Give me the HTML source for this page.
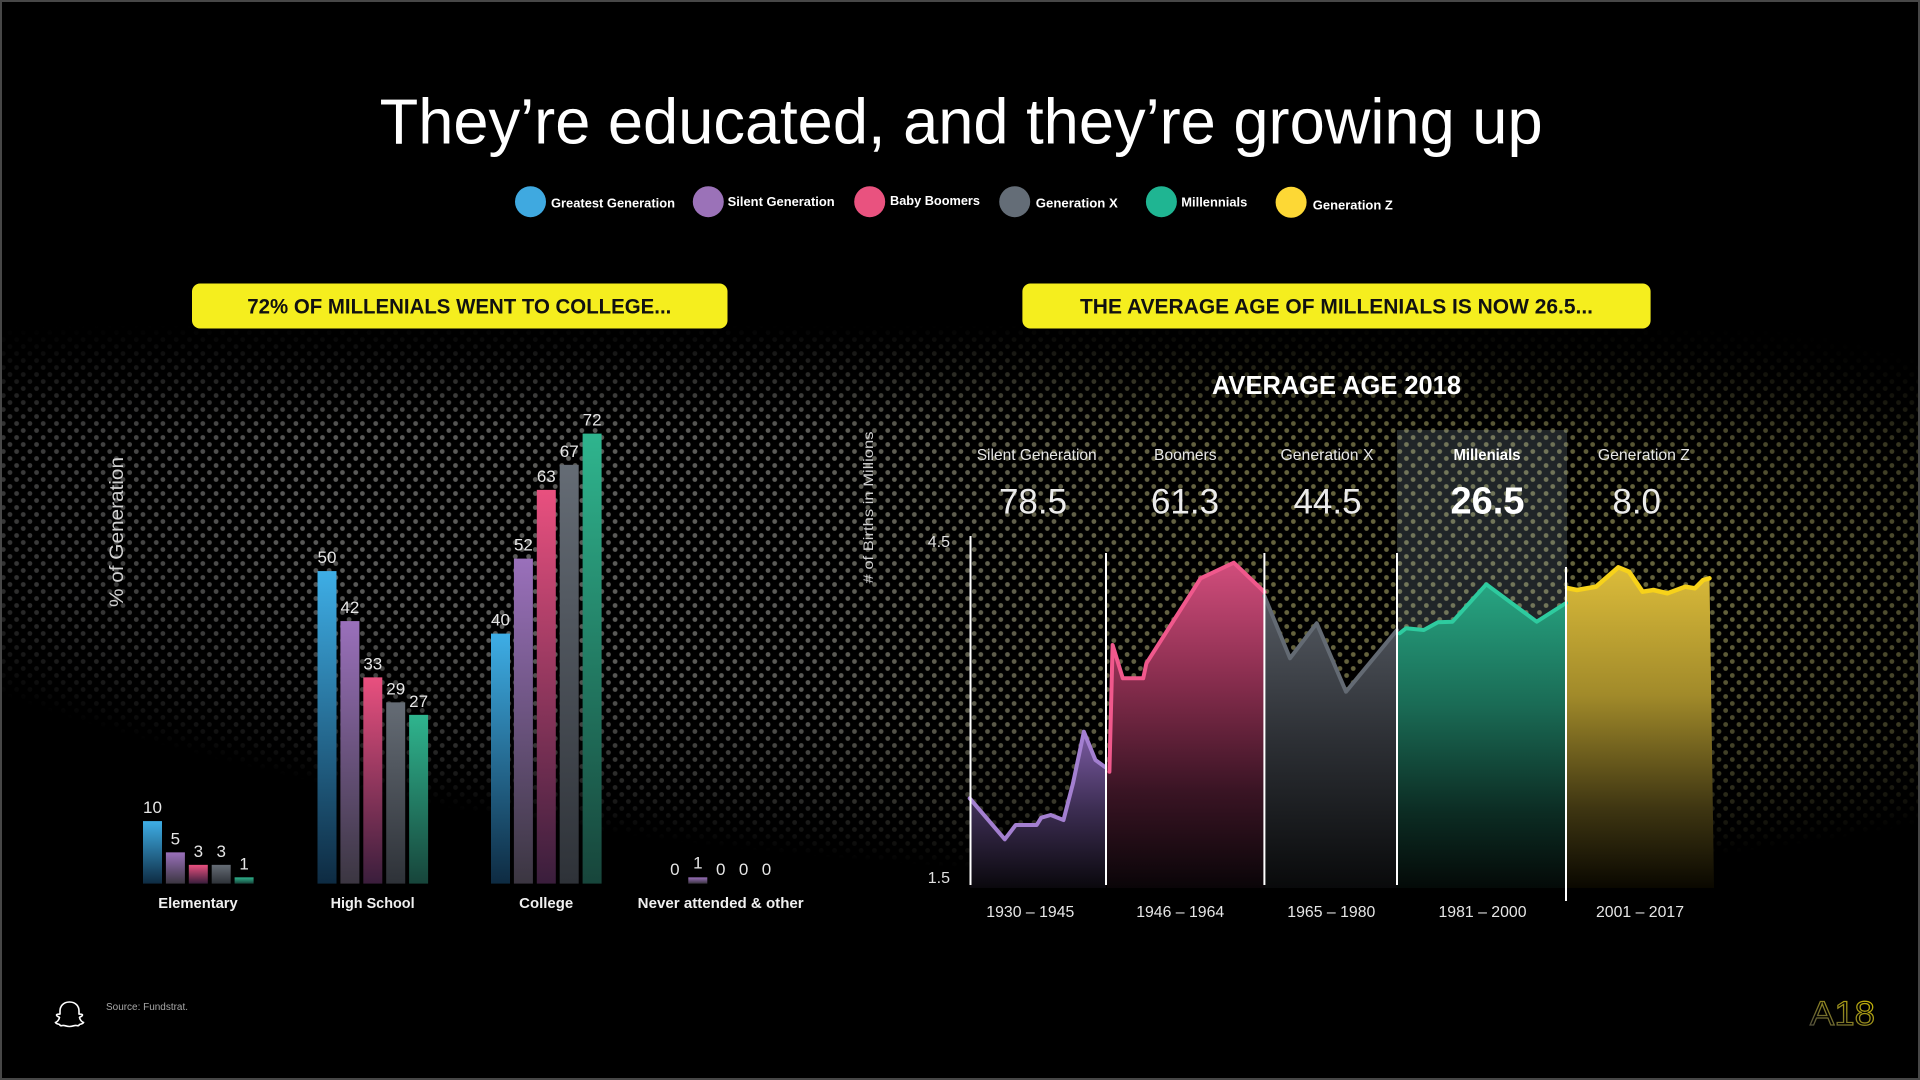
<!DOCTYPE html>
<html>
<head>
<meta charset="utf-8">
<style>
  html,body{margin:0;padding:0;background:#000;}
  svg{display:block;}
  text{font-family:"Liberation Sans", sans-serif;}
</style>
</head>
<body>
<svg width="1920" height="1080" viewBox="0 0 1920 1080" xmlns="http://www.w3.org/2000/svg">
  <defs>
    <pattern id="dotpat" width="13.3" height="14" patternUnits="userSpaceOnUse">
      <circle cx="3.3" cy="3.5" r="2.4" fill="#fff"/>
      <circle cx="9.95" cy="10.5" r="2.4" fill="#fff"/>
    </pattern>
    <mask id="dotmask" maskUnits="userSpaceOnUse" x="0" y="0" width="1920" height="1080">
      <rect width="1920" height="1080" fill="url(#dotpat)"/>
    </mask>
    <radialGradient id="fadeRad" gradientUnits="userSpaceOnUse" cx="0" cy="0" r="1"
      gradientTransform="translate(1000 540) rotate(3.4) scale(1300 330)">
      <stop offset="0" stop-color="#fff"/>
      <stop offset="0.55" stop-color="#fff" stop-opacity="0.95"/>
      <stop offset="0.8" stop-color="#fff" stop-opacity="0.55"/>
      <stop offset="1" stop-color="#fff" stop-opacity="0"/>
    </radialGradient>
    <linearGradient id="fadeTop" gradientUnits="userSpaceOnUse" x1="0" y1="325" x2="0" y2="430">
      <stop offset="0" stop-color="#000" stop-opacity="1"/>
      <stop offset="1" stop-color="#000" stop-opacity="0"/>
    </linearGradient>
    <mask id="fade" maskUnits="userSpaceOnUse" x="0" y="0" width="1920" height="1080">
      <rect width="1920" height="1080" fill="#000"/>
      <rect width="1920" height="1080" fill="url(#fadeRad)"/>
      <rect width="1920" height="1080" fill="url(#fadeTop)"/>
    </mask>
    <linearGradient id="dotColor" gradientUnits="userSpaceOnUse" x1="0" y1="0" x2="1920" y2="0">
      <stop offset="0" stop-color="#5e5e5e"/>
      <stop offset="0.42" stop-color="#5e5e5a"/>
      <stop offset="0.65" stop-color="#67653f"/>
      <stop offset="1" stop-color="#6c6a40"/>
    </linearGradient>

    <linearGradient id="gBlue" x1="0" y1="0" x2="0" y2="1">
      <stop offset="0" stop-color="#3eaee6"/><stop offset="1" stop-color="#0e2b42"/>
    </linearGradient>
    <linearGradient id="gPurple" x1="0" y1="0" x2="0" y2="1">
      <stop offset="0" stop-color="#9a70bb"/><stop offset="1" stop-color="#3b3641"/>
    </linearGradient>
    <linearGradient id="gPink" x1="0" y1="0" x2="0" y2="1">
      <stop offset="0" stop-color="#e9507f"/><stop offset="1" stop-color="#3a1e3c"/>
    </linearGradient>
    <linearGradient id="gGray" x1="0" y1="0" x2="0" y2="1">
      <stop offset="0" stop-color="#656c75"/><stop offset="1" stop-color="#2e3238"/>
    </linearGradient>
    <linearGradient id="gGreen" x1="0" y1="0" x2="0" y2="1">
      <stop offset="0" stop-color="#2fb58e"/><stop offset="1" stop-color="#17453b"/>
    </linearGradient>

    <linearGradient id="aPurple" x1="0" y1="0" x2="0" y2="1">
      <stop offset="0" stop-color="#7b5ba3"/><stop offset="0.5" stop-color="#3c2d52"/><stop offset="1" stop-color="#0a080d"/>
    </linearGradient>
    <linearGradient id="aPink" x1="0" y1="0" x2="0" y2="1">
      <stop offset="0" stop-color="#d14d7c"/><stop offset="0.35" stop-color="#8a2e4f"/><stop offset="0.7" stop-color="#3a1424"/><stop offset="1" stop-color="#0a0508"/>
    </linearGradient>
    <linearGradient id="aGray" x1="0" y1="0" x2="0" y2="1">
      <stop offset="0" stop-color="#555a62"/><stop offset="0.5" stop-color="#2c2f34"/><stop offset="1" stop-color="#090a0b"/>
    </linearGradient>
    <linearGradient id="aGreen" x1="0" y1="0" x2="0" y2="1">
      <stop offset="0" stop-color="#27a582"/><stop offset="0.4" stop-color="#1a6b55"/><stop offset="0.75" stop-color="#0c2c23"/><stop offset="1" stop-color="#040a08"/>
    </linearGradient>
    <linearGradient id="aYellow" x1="0" y1="0" x2="0" y2="1">
      <stop offset="0" stop-color="#dcbc3a"/><stop offset="0.4" stop-color="#a18a2a"/><stop offset="0.75" stop-color="#3f3612"/><stop offset="1" stop-color="#0a0800"/>
    </linearGradient>

    <linearGradient id="logoGrad" x1="0" y1="1" x2="1" y2="0">
      <stop offset="0" stop-color="#444"/><stop offset="1" stop-color="#d8c400"/>
    </linearGradient>
  </defs>

  <rect width="1920" height="1080" fill="#000"/>
  <g mask="url(#fade)">
    <rect width="1920" height="1080" fill="url(#dotColor)" mask="url(#dotmask)"/>
  </g>
  <rect x="1" y="1" width="1918" height="1078" fill="none" stroke="#474747" stroke-width="2"/>

  <text x="379.6" y="143.3" font-size="64" fill="#fff" textLength="1163" lengthAdjust="spacingAndGlyphs">They’re educated, and they’re growing up</text>

  <g font-size="12.5" font-weight="bold" fill="#fff">
    <circle cx="530.5" cy="201.7" r="15.5" fill="#3fa9e0"/>
    <text x="551" y="207.3" textLength="124" lengthAdjust="spacingAndGlyphs">Greatest Generation</text>
    <circle cx="708.3" cy="201.7" r="15.5" fill="#9b72b8"/>
    <text x="727.7" y="206" textLength="107" lengthAdjust="spacingAndGlyphs">Silent Generation</text>
    <circle cx="869.7" cy="201.7" r="15.5" fill="#e9527f"/>
    <text x="890" y="205" textLength="90" lengthAdjust="spacingAndGlyphs">Baby Boomers</text>
    <circle cx="1014.7" cy="201.7" r="15.5" fill="#646d77"/>
    <text x="1035.8" y="207.3" textLength="82" lengthAdjust="spacingAndGlyphs">Generation X</text>
    <circle cx="1161.4" cy="201.7" r="15.5" fill="#1fb592"/>
    <text x="1181.3" y="206.7" textLength="66" lengthAdjust="spacingAndGlyphs">Millennials</text>
    <circle cx="1291.1" cy="202.3" r="15.5" fill="#fdd835"/>
    <text x="1312.8" y="209.3" textLength="80" lengthAdjust="spacingAndGlyphs">Generation Z</text>
  </g>

  <rect x="192" y="283.5" width="535.5" height="45" rx="8" fill="#f5ee1e"/>
  <text x="247.3" y="313.3" font-size="21" font-weight="bold" fill="#111" textLength="424" lengthAdjust="spacingAndGlyphs">72% OF MILLENIALS WENT TO COLLEGE...</text>
  <rect x="1022.4" y="283.5" width="628.2" height="45" rx="8" fill="#f5ee1e"/>
  <text x="1080" y="313.3" font-size="21" font-weight="bold" fill="#111" textLength="513" lengthAdjust="spacingAndGlyphs">THE AVERAGE AGE OF MILLENIALS IS NOW 26.5...</text>

  <text transform="translate(123 532) rotate(-90)" text-anchor="middle" font-size="19" fill="#cfcfcf" textLength="150" lengthAdjust="spacingAndGlyphs">% of Generation</text>

  <g>
    <rect x="143" y="821.1" width="19" height="62.5" fill="url(#gBlue)"/>
    <rect x="165.9" y="852.35" width="19" height="31.25" fill="url(#gPurple)"/>
    <rect x="188.8" y="864.85" width="19" height="18.75" fill="url(#gPink)"/>
    <rect x="211.7" y="864.85" width="19" height="18.75" fill="url(#gGray)"/>
    <rect x="234.6" y="877.35" width="19" height="6.25" fill="url(#gGreen)"/>
    <rect x="317.5" y="571.1" width="19" height="312.5" fill="url(#gBlue)"/>
    <rect x="340.4" y="621.1" width="19" height="262.5" fill="url(#gPurple)"/>
    <rect x="363.3" y="677.35" width="19" height="206.25" fill="url(#gPink)"/>
    <rect x="386.2" y="702.35" width="19" height="181.25" fill="url(#gGray)"/>
    <rect x="409.1" y="714.85" width="19" height="168.75" fill="url(#gGreen)"/>
    <rect x="491" y="633.6" width="19" height="250" fill="url(#gBlue)"/>
    <rect x="513.9" y="558.6" width="19" height="325" fill="url(#gPurple)"/>
    <rect x="536.8" y="489.85" width="19" height="393.75" fill="url(#gPink)"/>
    <rect x="559.7" y="464.85" width="19" height="418.75" fill="url(#gGray)"/>
    <rect x="582.6" y="433.6" width="19" height="450" fill="url(#gGreen)"/>
    <rect x="688.3" y="877.35" width="19" height="6.25" fill="url(#gPurple)"/>
  </g>

  <g font-size="17" fill="#e6e6e6" text-anchor="middle">
    <text x="152.5" y="813.1">10</text>
    <text x="175.4" y="844.3">5</text>
    <text x="198.3" y="856.8">3</text>
    <text x="221.2" y="856.8">3</text>
    <text x="244.1" y="869.3">1</text>
    <text x="327" y="563.1">50</text>
    <text x="349.9" y="613.1">42</text>
    <text x="372.8" y="669.3">33</text>
    <text x="395.7" y="694.3">29</text>
    <text x="418.6" y="706.8">27</text>
    <text x="500.5" y="625.6">40</text>
    <text x="523.4" y="550.6">52</text>
    <text x="546.3" y="481.8">63</text>
    <text x="569.2" y="456.8">67</text>
    <text x="592.1" y="425.6">72</text>
    <text x="674.9" y="875">0</text>
    <text x="697.8" y="868.5">1</text>
    <text x="720.7" y="875">0</text>
    <text x="743.6" y="875">0</text>
    <text x="766.5" y="875">0</text>
  </g>

  <g font-size="14.5" font-weight="bold" fill="#f0f0f0" text-anchor="middle">
    <text x="198" y="908" textLength="79.5" lengthAdjust="spacingAndGlyphs">Elementary</text>
    <text x="372.6" y="908" textLength="84" lengthAdjust="spacingAndGlyphs">High School</text>
    <text x="546.2" y="908" textLength="54" lengthAdjust="spacingAndGlyphs">College</text>
    <text x="720.7" y="908" textLength="166" lengthAdjust="spacingAndGlyphs">Never attended &amp; other</text>
  </g>

  <text x="1336.5" y="394" font-size="26" font-weight="bold" fill="#fff" text-anchor="middle" textLength="249" lengthAdjust="spacingAndGlyphs">AVERAGE AGE 2018</text>

  <rect x="1397" y="430" width="170" height="458" fill="rgb(175,205,220)" fill-opacity="0.18"/>

  <text transform="translate(873 507.5) rotate(-90)" text-anchor="middle" font-size="13.5" fill="#cfcfcf" textLength="152" lengthAdjust="spacingAndGlyphs"># of Births in Millions</text>

  <text x="950" y="547" font-size="16" fill="#e0e0e0" text-anchor="end">4.5</text>
  <text x="950" y="883" font-size="16" fill="#e0e0e0" text-anchor="end">1.5</text>

  <g font-size="16" fill="#e6e6e6" text-anchor="middle">
    <text x="1036.7" y="460" textLength="120" lengthAdjust="spacingAndGlyphs">Silent Generation</text>
    <text x="1185.3" y="460" textLength="62.5" lengthAdjust="spacingAndGlyphs">Boomers</text>
    <text x="1327" y="460" textLength="93" lengthAdjust="spacingAndGlyphs">Generation X</text>
    <text x="1487" y="460" font-weight="bold" fill="#fff" textLength="67" lengthAdjust="spacingAndGlyphs">Millenials</text>
    <text x="1643.9" y="460" textLength="92" lengthAdjust="spacingAndGlyphs">Generation Z</text>
  </g>

  <g font-size="35" fill="#ececec" text-anchor="middle">
    <text x="1033" y="513.5">78.5</text>
    <text x="1185" y="513.5">61.3</text>
    <text x="1327.5" y="513.5">44.5</text>
    <text x="1487.5" y="513.5" font-size="38" font-weight="bold" fill="#fff">26.5</text>
    <text x="1636.7" y="513.5">8.0</text>
  </g>

  <path d="M969.7,798.3 L1004.8,839.3 L1015.7,825 L1036.7,825 L1041.2,817.7 L1050.7,815 L1063.5,820 L1073,783.3 L1083.9,731.7 L1095.4,760 L1106,767 L1106,888 L969.7,888 Z" fill="url(#aPurple)"/>
  <path d="M1107,888 L1107,772 L1109.4,771.7 L1112.6,645 L1122.8,678.3 L1143.2,678.3 L1146.4,663.3 L1200.6,578.3 L1233.8,562.7 L1264.4,592 L1264.4,888 Z" fill="url(#aPink)"/>
  <path d="M1264.4,888 L1264.4,596 L1290,658.3 L1316.7,623.3 L1346,691.7 L1397,630 L1397,888 Z" fill="url(#aGray)"/>
  <path d="M1397,888 L1397,635 L1399.6,633.3 L1406,628.3 L1423.8,630 L1437.9,622.3 L1452.5,621.7 L1486.3,584.3 L1536.7,621.7 L1566,603 L1566,888 Z" fill="url(#aGreen)"/>
  <path d="M1566,888 L1566,588 L1577,590 L1596,586.7 L1618.3,567.3 L1629,571.7 L1642.6,591.7 L1653.4,590 L1667.4,593.3 L1685.3,586.7 L1694.9,588.3 L1703.2,580 L1709.5,578.3 L1714,888 Z" fill="url(#aYellow)"/>

  <g fill="none" stroke-width="4" stroke-linejoin="round" stroke-linecap="round">
    <path d="M969.7,798.3 L1004.8,839.3 L1015.7,825 L1036.7,825 L1041.2,817.7 L1050.7,815 L1063.5,820 L1073,783.3 L1083.9,731.7 L1095.4,760 L1105,767" stroke="#a37fd0"/>
    <path d="M1109.4,771.7 L1112.6,645 L1122.8,678.3 L1143.2,678.3 L1146.4,663.3 L1200.6,578.3 L1233.8,562.7 L1264.4,592" stroke="#f0588c"/>
    <path d="M1264.4,596 L1290,658.3 L1316.7,623.3 L1346,691.7 L1397,630" stroke="#636a73"/>
    <path d="M1399.6,633.3 L1406,628.3 L1423.8,630 L1437.9,622.3 L1452.5,621.7 L1486.3,584.3 L1536.7,621.7 L1566,603" stroke="#2ecb9f"/>
    <path d="M1567,588 L1577,590 L1596,586.7 L1618.3,567.3 L1629,571.7 L1642.6,591.7 L1653.4,590 L1667.4,593.3 L1685.3,586.7 L1694.9,588.3 L1703.2,580 L1709.5,578.3" stroke="#f7d21a" stroke-width="4.5"/>
  </g>

  <g stroke="#fff" stroke-width="2">
    <line x1="970.5" y1="536" x2="970.5" y2="885"/>
    <line x1="1106" y1="553" x2="1106" y2="885"/>
    <line x1="1264.4" y1="553" x2="1264.4" y2="885"/>
    <line x1="1397" y1="553" x2="1397" y2="885"/>
    <line x1="1566" y1="567" x2="1566" y2="901"/>
  </g>

  <g font-size="16" fill="#e6e6e6" text-anchor="middle">
    <text x="1030.3" y="917" textLength="88" lengthAdjust="spacingAndGlyphs">1930 – 1945</text>
    <text x="1180.2" y="917" textLength="88" lengthAdjust="spacingAndGlyphs">1946 – 1964</text>
    <text x="1331.3" y="917" textLength="88" lengthAdjust="spacingAndGlyphs">1965 – 1980</text>
    <text x="1482.5" y="917" textLength="88" lengthAdjust="spacingAndGlyphs">1981 – 2000</text>
    <text x="1640" y="917" textLength="88" lengthAdjust="spacingAndGlyphs">2001 – 2017</text>
  </g>

  <path d="M69.5,1002 C63,1002 60,1006.5 60,1011 L60,1014 C59,1014.5 57,1013.5 56.5,1015 C56.5,1016.5 59,1016.5 59.5,1017.5 C59,1020 57,1022 55.5,1022.5 C56,1024 58.5,1024 59.5,1024.5 C60,1025.5 61,1026 62.5,1025.5 C64.5,1025 66,1026.5 69.5,1026.5 C73,1026.5 74.5,1025 76.5,1025.5 C78,1026 79,1025.5 79.5,1024.5 C80.5,1024 83,1024 83.5,1022.5 C82,1022 80,1020 79.5,1017.5 C80,1016.5 82.5,1016.5 82.5,1015 C82,1013.5 80,1014.5 79,1014 L79,1011 C79,1006.5 76,1002 69.5,1002 Z" fill="none" stroke="#fff" stroke-width="1.6"/>
  <text x="106" y="1010" font-size="10" fill="#a8a8a8" textLength="82" lengthAdjust="spacingAndGlyphs">Source: Fundstrat.</text>

  <text x="1810" y="1025" font-size="34" fill="none" stroke="url(#logoGrad)" stroke-width="1.2" textLength="65" lengthAdjust="spacingAndGlyphs">A18</text>
</svg>
</body>
</html>
